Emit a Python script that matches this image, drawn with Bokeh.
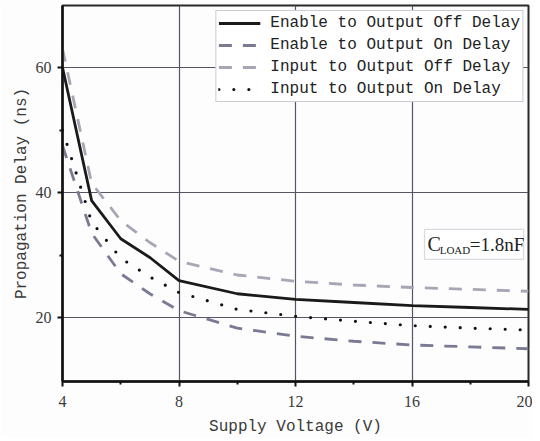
from bokeh.plotting import figure
from bokeh.models import Range1d, Legend, LegendItem, BoxAnnotation, Label, FixedTicker
from bokeh.embed import file_html
from bokeh.resources import INLINE

voltage = [4, 5, 6, 7, 8, 10, 12, 14, 16, 18, 20]
en_off = [60, 38.7, 32.6, 29.6, 25.9, 23.8, 22.9, 22.4, 21.9, 21.6, 21.3]
en_on = [47.5, 33.5, 27.0, 23.8, 21.1, 18.3, 17.0, 16.2, 15.6, 15.3, 15.0]
in_off = [63, 41.5, 35.5, 32.0, 29.0, 26.8, 25.8, 25.2, 24.8, 24.5, 24.2]
in_on = [50, 35.3, 29.5, 26.5, 24.0, 21.3, 20.2, 19.4, 18.7, 18.3, 18.0]
x_ticks = [4, 8, 12, 16, 20]
y_ticks = [20, 40, 60]
series_names = ["Enable to Output Off Delay", "Enable to Output On Delay",
                "Input to Output Off Delay", "Input to Output On Delay"]

FONT = "Liberation Mono"
SERIF = "Liberation Serif"
TXT = "#3a3a3a"

p = figure(frame_width=466, frame_height=376, output_backend="svg", toolbar_location=None,
           x_range=Range1d(4, 20), y_range=Range1d(9.76, 69.92),
           min_border_left=62, min_border_right=4, min_border_top=5, min_border_bottom=50,
           background_fill_color="#fdfdfd", border_fill_color="#fdfdfd")
p.outline_line_color = "#2a2a2a"
p.outline_line_width = 2

for ax in (p.xaxis[0], p.yaxis[0]):
    ax.axis_line_color = "#111111"
    ax.axis_line_width = 2.5
    ax.major_tick_line_color = "#111111"
    ax.minor_tick_line_color = "#111111"
    ax.major_tick_line_width = 2
    ax.minor_tick_line_width = 2
    ax.major_tick_out = 5
    ax.major_tick_in = 0
    ax.minor_tick_out = 3
    ax.minor_tick_in = 0
    ax.major_label_text_font = SERIF
    ax.major_label_text_font_size = "16px"
    ax.major_label_text_color = TXT
    ax.axis_label_text_font = FONT
    ax.axis_label_text_font_size = "16px"
    ax.axis_label_text_font_style = "normal"
    ax.axis_label_text_color = TXT

p.xaxis.ticker = FixedTicker(ticks=x_ticks, minor_ticks=[6, 10, 14, 18])
p.yaxis.ticker = FixedTicker(ticks=y_ticks, minor_ticks=[30, 50])
p.xaxis.axis_label = "Supply Voltage (V)"
p.yaxis.axis_label = "Propagation Delay (ns)"
p.xaxis.major_label_standoff = 9
p.yaxis.major_label_standoff = 6
p.xaxis.axis_label_standoff = 8
p.yaxis.axis_label_standoff = 2

p.xgrid.grid_line_color = "#555566"
p.ygrid.grid_line_color = "#555566"
p.xgrid.grid_line_width = 1.2
p.ygrid.grid_line_width = 1.2

r1 = p.line(voltage, en_off, line_color="#1a1a1a", line_width=2.8)
r2 = p.line(voltage, en_on, line_color="#7a7a92", line_width=2.8, line_dash="13 11")
r3 = p.line(voltage, in_off, line_color="#a6a6b6", line_width=2.8, line_dash="13 11")
r4 = p.line(voltage, in_on, line_color="#111111", line_width=3.2, line_dash="0 15", line_cap="round")

legend = Legend(items=[LegendItem(label=series_names[0], renderers=[r1]),
                       LegendItem(label=series_names[1], renderers=[r2]),
                       LegendItem(label=series_names[2], renderers=[r3]),
                       LegendItem(label=series_names[3], renderers=[r4])],
                location="top_right")
legend.label_text_font = FONT
legend.label_text_font_size = "16px"
legend.label_text_color = "#222222"
legend.glyph_width = 42
legend.glyph_height = 20
legend.label_height = 20
legend.spacing = 2
legend.padding = 2
legend.margin = 5
legend.label_standoff = 10
legend.border_line_color = "#9a9aaa"
legend.border_line_width = 1.5
legend.background_fill_color = "#ffffff"
legend.background_fill_alpha = 1
p.add_layout(legend)

box = BoxAnnotation(left=16.43, right=19.83, bottom=29.3, top=34.1,
                    fill_color="#ffffff", fill_alpha=1, line_color="#8888a0", line_width=1.2)
p.add_layout(box)
p.add_layout(Label(x=16.53, y=31.75, text="C", text_font=SERIF, text_font_size="20px",
                   text_baseline="middle", text_color="#222222"))
p.add_layout(Label(x=16.95, y=30.85, text="LOAD", text_font=SERIF, text_font_size="11px",
                   text_baseline="middle", text_color="#222222"))
p.add_layout(Label(x=17.98, y=31.75, text="=1.8nF", text_font=SERIF, text_font_size="19px",
                   text_baseline="middle", text_color="#222222"))

open("out.html", "w").write(file_html(p, INLINE))
